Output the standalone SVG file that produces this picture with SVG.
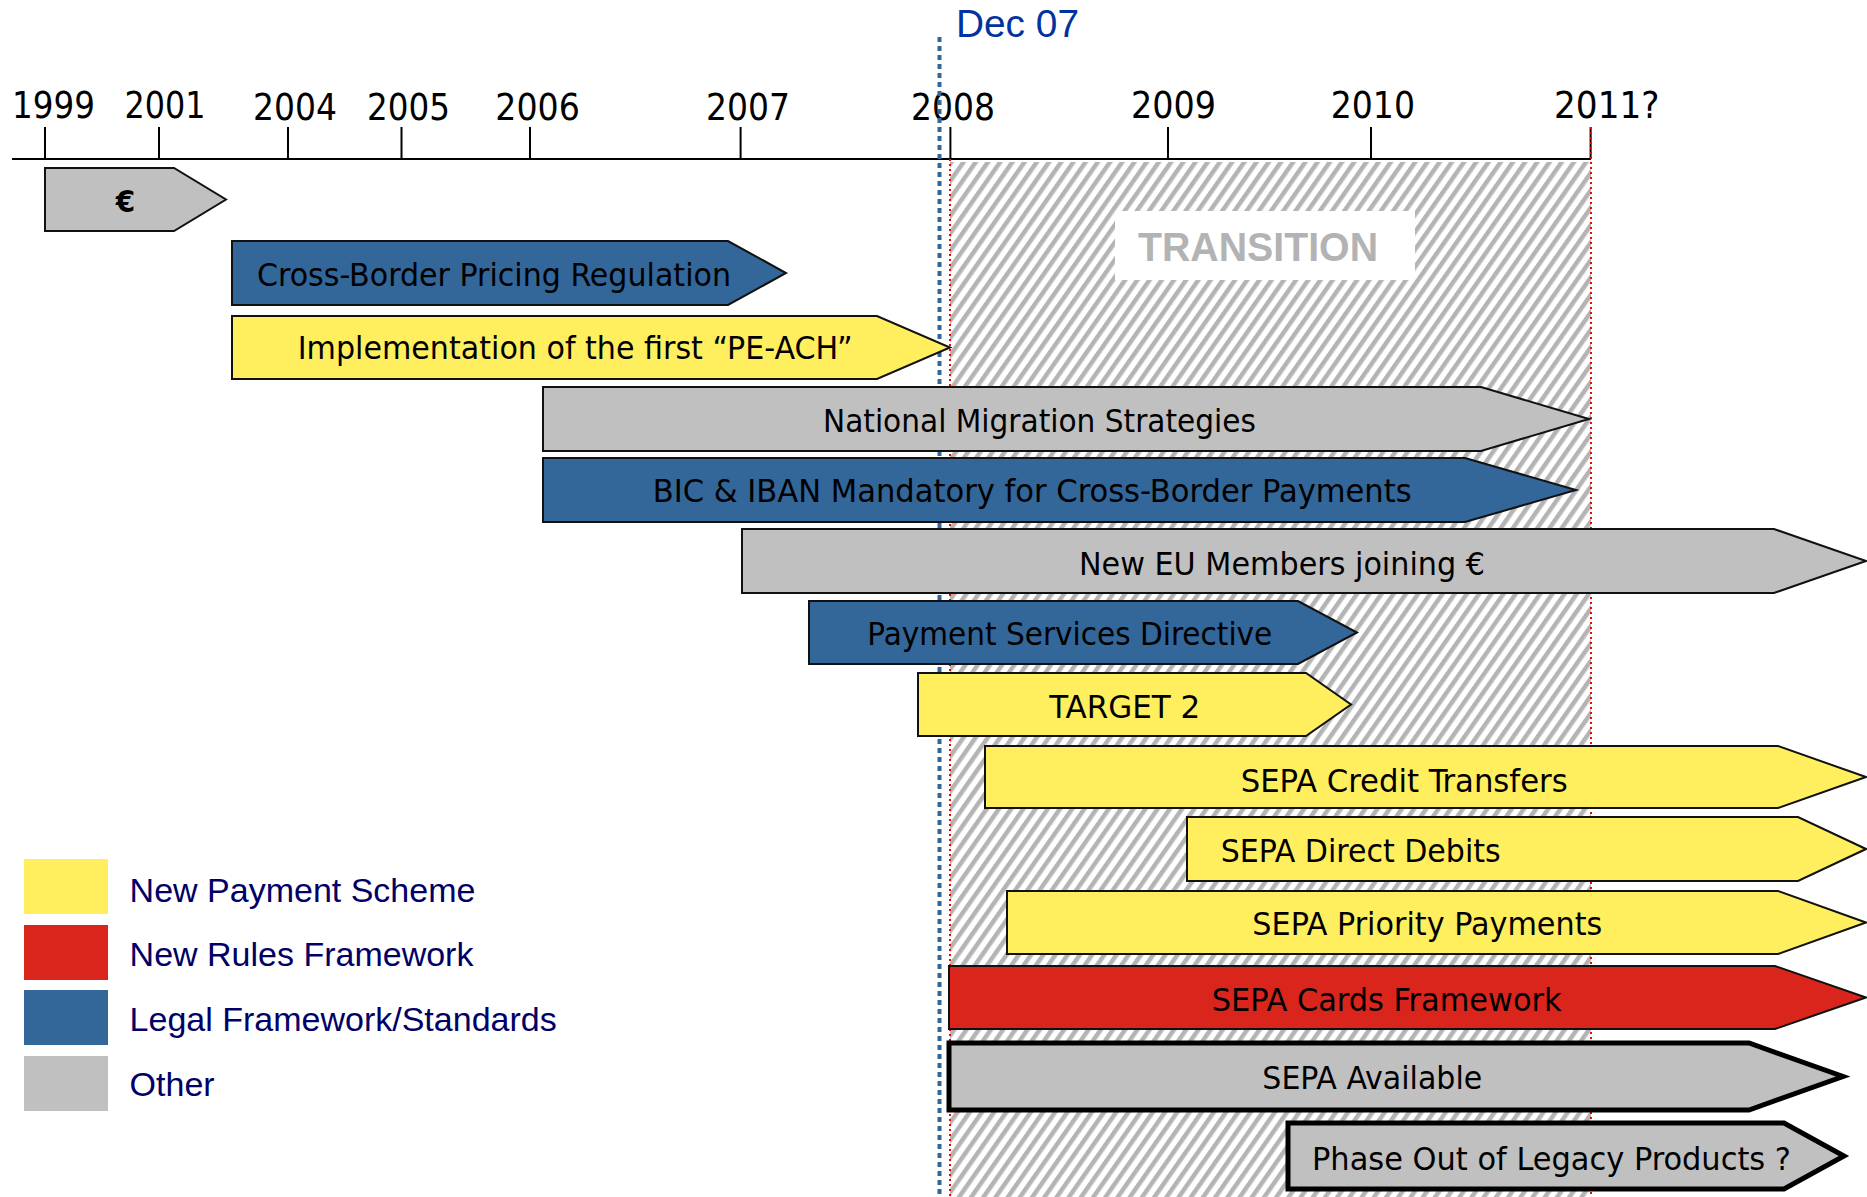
<svg xmlns="http://www.w3.org/2000/svg" width="1867" height="1197" viewBox="0 0 1867 1197">
<defs>
<pattern id="hatch" patternUnits="userSpaceOnUse" width="10" height="10" patternTransform="rotate(35)">
<rect width="10" height="10" fill="#ffffff"/>
<rect x="0" y="0" width="4.5" height="10" fill="#b4b4b4"/>
</pattern>
</defs>
<style>
.bar{stroke:#111;stroke-width:2;stroke-linejoin:miter}
.thick{stroke:#000;stroke-width:5}
.blue{fill:#336699}
.yellow{fill:#FFEF5F}
.gray{fill:#C0C0C0}
.red{fill:#DA251D}
.lbl{font-family:"DejaVu Sans Condensed","DejaVu Sans",sans-serif;font-stretch:condensed;font-size:31.5px;fill:#000}
.year{font-family:"DejaVu Sans Condensed","DejaVu Sans",sans-serif;font-stretch:condensed;font-size:37px;fill:#000}
.leg{font-family:"Liberation Sans",Arial,sans-serif;font-size:34px;fill:#000066}
.tick{stroke:#000;stroke-width:2}
</style>
<rect width="1867" height="1197" fill="#ffffff"/>

<g id="transition">
<rect x="950" y="162" width="641" height="1035" fill="url(#hatch)"/>
<rect x="1115" y="211" width="300" height="69" fill="#ffffff"/>
<text x="1138" y="261" textLength="240" lengthAdjust="spacingAndGlyphs" style="font-family:'Liberation Sans',Arial,sans-serif;font-weight:bold;font-size:40px;fill:#B3B3B3">TRANSITION</text>
</g>

<g id="axis">
<line x1="12" y1="159" x2="1591" y2="159" class="tick"/>
<line x1="45" y1="127" x2="45" y2="159" class="tick"/>
<line x1="159" y1="127" x2="159" y2="159" class="tick"/>
<line x1="288" y1="127" x2="288" y2="159" class="tick"/>
<line x1="401.5" y1="127" x2="401.5" y2="159" class="tick"/>
<line x1="530" y1="127" x2="530" y2="159" class="tick"/>
<line x1="740.6" y1="127" x2="740.6" y2="159" class="tick"/>
<line x1="950.4" y1="127" x2="950.4" y2="159" class="tick"/>
<line x1="1168" y1="127" x2="1168" y2="159" class="tick"/>
<line x1="1371" y1="127" x2="1371" y2="159" class="tick"/>
<line x1="1590.6" y1="127" x2="1590.6" y2="159" class="tick"/>
<text class="year" x="12" y="118" textLength="83" lengthAdjust="spacingAndGlyphs">1999</text>
<text class="year" x="124.5" y="118" textLength="81" lengthAdjust="spacingAndGlyphs">2001</text>
<text class="year" x="253" y="120" textLength="84" lengthAdjust="spacingAndGlyphs">2004</text>
<text class="year" x="367" y="120" textLength="83" lengthAdjust="spacingAndGlyphs">2005</text>
<text class="year" x="495.3" y="120" textLength="84.5" lengthAdjust="spacingAndGlyphs">2006</text>
<text class="year" x="706" y="120" textLength="84" lengthAdjust="spacingAndGlyphs">2007</text>
<text class="year" x="911" y="120" textLength="84" lengthAdjust="spacingAndGlyphs">2008</text>
<text class="year" x="1131" y="118" textLength="85" lengthAdjust="spacingAndGlyphs">2009</text>
<text class="year" x="1330.7" y="118" textLength="84.3" lengthAdjust="spacingAndGlyphs">2010</text>
<text class="year" x="1554" y="118" textLength="105.5" lengthAdjust="spacingAndGlyphs">2011?</text>
</g>

<g id="connectors">
<line x1="950" y1="159" x2="950" y2="1197" stroke="#FF0000" stroke-width="2" stroke-dasharray="2 3"/>
<line x1="1591" y1="127" x2="1591" y2="1197" stroke="#FF0000" stroke-width="2" stroke-dasharray="2 3"/>
<line x1="939.5" y1="37" x2="939.5" y2="1197" stroke="#336699" stroke-width="4" stroke-dasharray="5 4"/>
</g>
<text x="956" y="37" textLength="123" lengthAdjust="spacingAndGlyphs" style="font-family:'Liberation Sans',Arial,sans-serif;font-size:38px;fill:#0033A0">Dec 07</text>

<g id="bar-euro">
<path class="bar gray" d="M45 168 H174 L226 199.5 L174 231 H45 Z"/>
<text x="125.5" y="212" text-anchor="middle" style="font-family:'DejaVu Sans Condensed','DejaVu Sans',sans-serif;font-weight:bold;font-size:31px">€</text>
</g>
<g id="bar-cross-border">
<path class="bar blue" d="M232 241 H728 L786 273 L728 305 H232 Z"/>
<text class="lbl" x="257" y="286" textLength="474" lengthAdjust="spacingAndGlyphs">Cross-Border Pricing Regulation</text>
</g>
<g id="bar-pe-ach">
<path class="bar yellow" d="M232 316 H877 L950 347.5 L877 379 H232 Z"/>
<text class="lbl" x="297.7" y="359" textLength="555" lengthAdjust="spacingAndGlyphs">Implementation of the first “PE-ACH”</text>
</g>
<g id="bar-national">
<path class="bar gray" d="M543 387 H1481 L1589 419 L1481 451 H543 Z"/>
<text class="lbl" x="823" y="431.7" textLength="433" lengthAdjust="spacingAndGlyphs">National Migration Strategies</text>
</g>
<g id="bar-bic-iban">
<path class="bar blue" d="M543 458 H1465 L1576 490 L1465 522 H543 Z"/>
<text class="lbl" x="652.7" y="502.3" textLength="759" lengthAdjust="spacingAndGlyphs">BIC &amp; IBAN Mandatory for Cross-Border Payments</text>
</g>
<g id="bar-new-eu">
<path class="bar gray" d="M742 529 H1774 L1866 561 L1774 593 H742 Z"/>
<text class="lbl" x="1079" y="575" textLength="406" lengthAdjust="spacingAndGlyphs">New EU Members joining €</text>
</g>
<g id="bar-psd">
<path class="bar blue" d="M809 601 H1298 L1357 632.5 L1298 664 H809 Z"/>
<text class="lbl" x="867.3" y="645" textLength="405" lengthAdjust="spacingAndGlyphs">Payment Services Directive</text>
</g>
<g id="bar-target2">
<path class="bar yellow" d="M918 673 H1306 L1351 704.5 L1306 736 H918 Z"/>
<text class="lbl" x="1049.3" y="718.3" textLength="151" lengthAdjust="spacingAndGlyphs">TARGET 2</text>
</g>
<g id="bar-sct">
<path class="bar yellow" d="M985 746 H1778 L1866 777 L1778 808 H985 Z"/>
<text class="lbl" x="1240.7" y="791.7" textLength="327" lengthAdjust="spacingAndGlyphs">SEPA Credit Transfers</text>
</g>
<g id="bar-sdd">
<path class="bar yellow" d="M1187 817 H1798 L1866 849 L1798 881 H1187 Z"/>
<text class="lbl" x="1220.7" y="861.7" textLength="280" lengthAdjust="spacingAndGlyphs">SEPA Direct Debits</text>
</g>
<g id="bar-priority">
<path class="bar yellow" d="M1007 891 H1778 L1866 922.5 L1778 954 H1007 Z"/>
<text class="lbl" x="1252.3" y="935" textLength="350" lengthAdjust="spacingAndGlyphs">SEPA Priority Payments</text>
</g>
<g id="bar-cards">
<path class="bar red" d="M949 966 H1775 L1866 997.5 L1775 1029 H949 Z"/>
<text class="lbl" x="1211.7" y="1010.7" textLength="350" lengthAdjust="spacingAndGlyphs">SEPA Cards Framework</text>
</g>
<g id="bar-available">
<path class="bar thick gray" d="M949 1043 H1749 L1843 1076.5 L1749 1110 H949 Z"/>
<text class="lbl" x="1262.3" y="1089.3" textLength="220" lengthAdjust="spacingAndGlyphs">SEPA Available</text>
</g>
<g id="bar-phase-out">
<path class="bar thick gray" d="M1288 1123 H1784 L1844 1156 L1784 1189 H1288 Z"/>
<text class="lbl" x="1312" y="1170" textLength="479" lengthAdjust="spacingAndGlyphs">Phase Out of Legacy Products ?</text>
</g>

<g id="legend">
<rect x="24" y="859" width="84" height="55" fill="#FFEF5F"/>
<rect x="24" y="925" width="84" height="55" fill="#DA251D"/>
<rect x="24" y="990" width="84" height="55" fill="#336699"/>
<rect x="24" y="1056" width="84" height="55" fill="#C0C0C0"/>
<text class="leg" x="129.6" y="902">New Payment Scheme</text>
<text class="leg" x="129.6" y="966">New Rules Framework</text>
<text class="leg" x="129.6" y="1031">Legal Framework/Standards</text>
<text class="leg" x="129.6" y="1096">Other</text>
</g>
</svg>
